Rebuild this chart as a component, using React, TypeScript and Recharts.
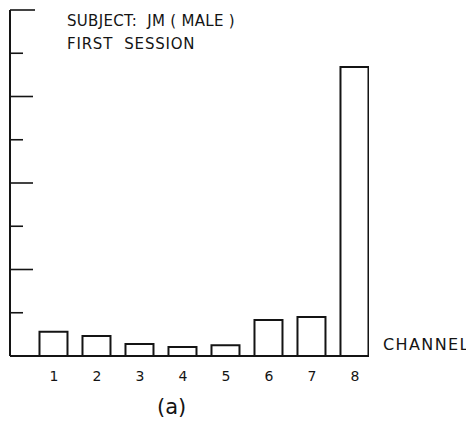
import React from "react";
import { BarChart, Bar, XAxis, YAxis } from "recharts";

// Relative response per channel, first session of subject JM
const channels = [1, 2, 3, 4, 5, 6, 7, 8];
const responses = [0.56, 0.46, 0.28, 0.21, 0.25, 0.83, 0.9, 6.68];
const yTicks = [1, 2, 3, 4, 5, 6, 7, 8];

const data = channels.map((c, i) => ({ channel: c, value: responses[i] }));

const INK = "#141414";
const FONT = "'DejaVu Sans', 'Liberation Sans', sans-serif";

// Y ticks point inward; even values get a long tick, odd values a short one
const InwardTick = (props: any) => {
  const { x, y, payload } = props;
  const v = payload.value;
  if (v === 0) return null;
  const len = v === 8 ? 25 : v % 2 === 0 ? 23 : 13;
  return <line x1={x} y1={y} x2={x + len} y2={y} stroke={INK} strokeWidth={1.6} />;
};

export default function App() {
  return (
    <div style={{ position: "relative", width: 466, height: 417, fontFamily: FONT, color: INK }}>
      <BarChart
        width={466}
        height={417}
        data={data}
        margin={{ top: 2, right: 105, bottom: 39, left: 1 }}
      >
        <XAxis
          type="number"
          dataKey="channel"
          domain={[-0.023, 8.326]}
          ticks={channels}
          interval={0}
          height={30}
          tickSize={0}
          tickMargin={15}
          axisLine={{ stroke: INK, strokeWidth: 2 }}
          tickLine={false}
          tick={{ fill: INK, fontSize: 14, fontFamily: FONT }}
          allowDataOverflow
        />
        <YAxis
          type="number"
          domain={[0, 8]}
          ticks={yTicks}
          width={1}
          tickSize={0}
          tickMargin={0}
          axisLine={{ stroke: INK, strokeWidth: 2 }}
          tickLine={false}
          tick={<InwardTick />}
          interval={0}
        />
        <Bar
          dataKey="value"
          barSize={28}
          fill="#ffffff"
          stroke={INK}
          strokeWidth={2}
          isAnimationActive={false}
        />
      </BarChart>
      <div
        style={{
          position: "absolute",
          left: 59,
          top: 2,
          fontSize: 15,
          lineHeight: "23px",
          whiteSpace: "pre",
        }}
      >
        <div style={{ letterSpacing: 0.3 }}>SUBJECT:  JM ( MALE )</div>
        <div style={{ letterSpacing: 0.8 }}>FIRST  SESSION</div>
      </div>
      <div
        style={{ position: "absolute", left: 375, top: 327, fontSize: 16, letterSpacing: 1.4 }}
      >
        CHANNEL
      </div>
      <div style={{ position: "absolute", left: 149, top: 387, fontSize: 21 }}>(a)</div>
    </div>
  );
}
